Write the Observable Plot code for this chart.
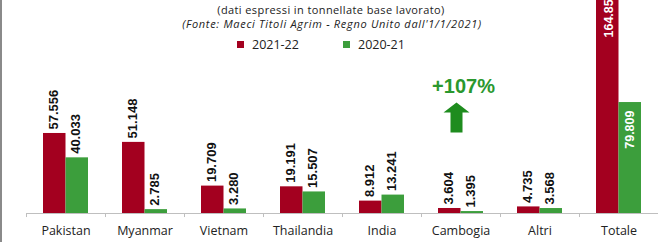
<!DOCTYPE html>
<html>
<head>
<meta charset="utf-8">
<script src="https://cdn.jsdelivr.net/npm/d3@7"></script>
<script src="https://cdn.jsdelivr.net/npm/@observablehq/plot@0.6"></script>
<style>
  html, body { margin: 0; padding: 0; background: #fff; overflow: hidden; }
  #wrap { position: relative; width: 658px; height: 242px; font-family: "Open Sans", sans-serif; color: #222; }
  #chart { position: absolute; left: 0; top: 0; }
  .txt { position: absolute; white-space: nowrap; transform: translate(-50%, -50%); line-height: 1; }
  .leg { position: absolute; white-space: nowrap; font-size: 12.5px; line-height: 1; transform: translateY(-50%); }
  .sw { position: absolute; width: 7px; height: 7px; }
  #border { position: absolute; left: 0; top: 0; width: 2px; height: 242px; background: #8a8a8a; }
</style>
</head>
<body>
<div id="wrap">
  <div id="chart"></div>
  <div id="border"></div>
</div>
<script>
// ---- data ----
const categories = ["Pakistan", "Myanmar", "Vietnam", "Thailandia", "India", "Cambogia", "Altri", "Totale"];
const tonnes2122 = [57556, 51148, 19709, 19191, 8912, 3604, 4735, 164855];
const tonnes2021 = [40033, 2785, 3280, 15507, 13241, 1395, 3568, 79809];
const seriesNames = ["2021-22", "2020-21"];
const seriesColors = ["#a3001f", "#3c9e3c"];
const subtitle = "(dati espressi in tonnellate base lavorato)";
const source = "(Fonte: Maeci Titoli Agrim - Regno Unito dall'1/1/2021)";
const growthLabel = "+107%";
const growthCategory = "Cambogia";
const growthTextValue = 91300;
const growthArrowValue = 69000;

const itLocale = d3.formatLocale({decimal: ",", thousands: ".", grouping: [3], currency: ["€", ""]});
const fmt = itLocale.format(",d");

const rows = categories.map((c, i) => ({cat: c, a: tonnes2122[i], b: tonnes2021[i]}));
const normal = rows.filter(d => d.cat !== "Totale");
const total = rows.filter(d => d.cat === "Totale");

// custom filled up-arrow symbol
const arrowSymbol = {
  draw(ctx) {
    ctx.moveTo(0, -15);
    ctx.lineTo(13, -5);
    ctx.lineTo(6, -5);
    ctx.lineTo(6, 15);
    ctx.lineTo(-6, 15);
    ctx.lineTo(-6, -5);
    ctx.lineTo(-13, -5);
    ctx.closePath();
  }
};

const valueFont = {fontFamily: "Liberation Sans, Arial, sans-serif", fontWeight: "bold", fontSize: 13};

const chart = Plot.plot({
  width: 658,
  height: 242,
  marginTop: 0,
  marginBottom: 29,
  marginLeft: 26,
  marginRight: 0,
  style: {background: "transparent", overflow: "hidden"},
  x: {domain: categories, padding: 0, axis: null},
  y: {domain: [0, 153200], axis: null},
  marks: [
    Plot.barY(rows, {x: "cat", y: "a", fill: seriesColors[0], insetLeft: 17, insetRight: 39.5, clip: true}),
    Plot.barY(rows, {x: "cat", y: "b", fill: seriesColors[1], insetLeft: 39.5, insetRight: 17}),
    Plot.ruleY([0], {stroke: "#bfbfbf", strokeWidth: 1}),
    Plot.ruleX(categories, {x: d => d, dx: -39.5, y1: 0, y2: -2900, stroke: "#bfbfbf"}),
    // category labels
    Plot.text(categories, {x: d => d, y: 0, dy: 17, text: d => d, fontFamily: "Open Sans, sans-serif", fontSize: 12.5, fill: "#222", style: "letter-spacing:0.3px"}),
    // value labels above bars
    Plot.text(normal, {x: "cat", y: "a", text: d => fmt(d.a), rotate: -90, textAnchor: "start", dx: -12, dy: -4, fill: "#111", ...valueFont}),
    Plot.text(normal, {x: "cat", y: "b", text: d => fmt(d.b), rotate: -90, textAnchor: "start", dx: 10, dy: -4, fill: "#111", ...valueFont}),
    // total labels inside bars
    Plot.text(total, {x: "cat", y: "a", text: d => fmt(d.a), rotate: -90, textAnchor: "end", dx: -10.5, dy: 8, fill: "#fff", ...valueFont, fontSize: 12.5}),
    Plot.text(total, {x: "cat", y: "b", text: d => fmt(d.b), rotate: -90, textAnchor: "end", dx: 11, dy: 8, fill: "#fff", ...valueFont, fontSize: 12.5}),
    // growth annotation
    Plot.dot([growthCategory], {x: d => d, y: growthArrowValue, dx: -4.5, symbol: arrowSymbol, r: 10, fill: "#1e8c1e", stroke: null}),
    Plot.text([growthLabel], {x: () => growthCategory, y: growthTextValue, dx: 2.5, text: d => d, fill: "#2a982e", fontFamily: "Liberation Sans, Arial, sans-serif", fontWeight: "bold", fontSize: 20})
  ]
});
document.getElementById("chart").appendChild(chart);

// titles and legend (HTML, over the svg)
const wrap = document.getElementById("wrap");
function addText(t, x, y, style) {
  const d = document.createElement("div");
  d.className = "txt";
  d.textContent = t;
  d.style.left = x + "px";
  d.style.top = y + "px";
  Object.assign(d.style, style);
  wrap.appendChild(d);
}
addText(subtitle, 331, 9, {fontSize: "11px", letterSpacing: "0.4px"});
addText(source, 332, 23, {fontSize: "11px", fontStyle: "italic", letterSpacing: "0.7px"});

const legendX = [237, 343];
seriesNames.forEach((name, i) => {
  const sw = document.createElement("div");
  sw.className = "sw";
  sw.style.left = legendX[i] + "px";
  sw.style.top = "41px";
  sw.style.background = seriesColors[i];
  wrap.appendChild(sw);
  const t = document.createElement("div");
  t.className = "leg";
  t.textContent = name;
  t.style.left = (legendX[i] + 15) + "px";
  t.style.top = "44.5px";
  wrap.appendChild(t);
});
</script>
</body>
</html>
